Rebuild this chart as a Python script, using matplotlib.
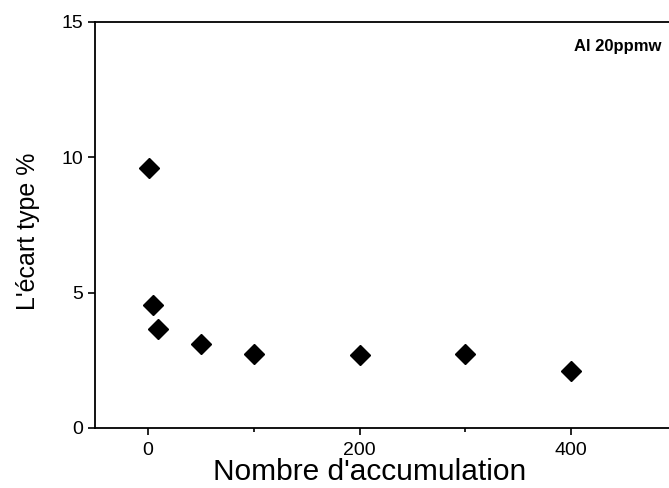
import matplotlib
matplotlib.use("Agg")
import matplotlib.pyplot as plt
from matplotlib.ticker import MultipleLocator

# data
accumulations = [1, 5, 10, 50, 100, 200, 300, 400]
std_pct = [9.6, 4.55, 3.65, 3.1, 2.72, 2.7, 2.72, 2.1]

plt.rcParams['font.family'] = ['Liberation Sans', 'DejaVu Sans']

fig = plt.figure(figsize=(6.69, 4.88), dpi=100)
ax = fig.add_axes([0.142, 0.123, 0.870, 0.832])

ax.plot(accumulations, std_pct, linestyle='none', marker='D', markersize=10, color='black')

ax.set_xlim(-50, 500); ax.set_ylim(0, 15)
ax.xaxis.set_major_locator(MultipleLocator(200)); ax.xaxis.set_minor_locator(MultipleLocator(100))
ax.yaxis.set_major_locator(MultipleLocator(5))
for s in ['left', 'bottom', 'top', 'right']: ax.spines[s].set_linewidth(1.3)
ax.tick_params(which='major', direction='out', length=5, width=1.2, labelsize=14)
ax.tick_params(which='minor', direction='out', length=3, width=1.2)
ax.tick_params(axis='x', which='major', pad=5)

ax.set_xlabel("Nombre d'accumulation", fontsize=21.5)
ax.xaxis.set_label_coords(0.4725, -0.074)
ax.set_ylabel("L'écart type %", fontsize=18)
ax.yaxis.set_label_coords(-0.095, 0.485)
ax.text(444, 14.1, "Al 20ppmw", fontsize=12, fontweight='bold', ha='center', va='center')

fig.savefig('out.png', dpi=100)
